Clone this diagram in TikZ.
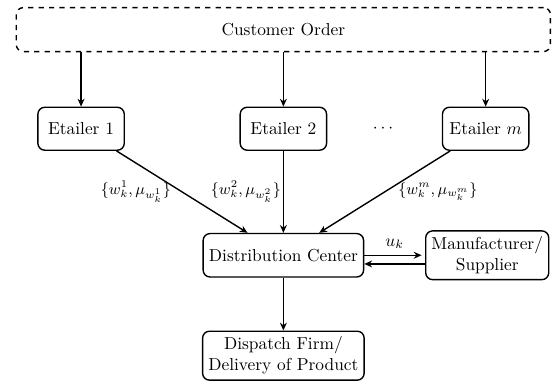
\documentclass[tikz,border=0pt]{standalone}
\usepackage{amsmath}
\usepackage{amssymb}
\usepackage{tikz}
\usetikzlibrary{arrows.meta, positioning}
\tikzstyle{orderbox} = [rectangle, rounded corners, dashed, draw=black, thick,
    minimum width=10.82cm, minimum height=0.89cm, text centered]
\tikzstyle{etailer}  = [rectangle, rounded corners, draw=black, thick,
    minimum width=1.75cm, minimum height=0.87cm, text centered]
\tikzstyle{hub}      = [rectangle, rounded corners, draw=black, thick,
    minimum height=0.88cm, align=center]
\tikzstyle{arrow}    = [thick,->,>={Stealth[length=4.5pt,width=4pt]}]
\tikzstyle{flow}     = [inner sep=0pt, font=\small]

\begin{document}
\begin{tikzpicture}
    \node (order)    [orderbox]                     {Customer Order};
    \node (e2)       [etailer, below=1.1cm of order] {Etailer 2};
    \node (e1)       [etailer, left=2.32cm of e2]    {Etailer 1};
    \node (em)       [etailer, right=2.32cm of e2]   {Etailer $m$};
    \path (e2) -- node (dots) {$\cdots$} (em);
    \node (dc)       [hub, below=1.66cm of e2]       {Distribution Center};
    \node (mf)       [hub, right=1.23cm of dc]       {Manufacturer/\\Supplier};
    \node (dispatch) [hub, below=1.07cm of dc]       {Dispatch Firm/\\Delivery of Product};

    \draw [arrow] (order.south -| e1) -- (e1);
    \draw [arrow] (order.south -| e2) -- (e2);
    \draw [arrow] (order.south -| em) -- (em);
    \draw [arrow] (e1) -- node[flow, midway, left=6pt]   {$\{w_k^1, \mu_{w_k^1}\}$} (dc);
    \draw [arrow] (e2) -- node[flow, midway, left=1pt]   {$\{w_k^2, \mu_{w_k^2}\}$} (dc);
    \draw [arrow] (em) -- node[flow, midway, right=7.5pt] {$\{w_k^m, \mu_{w_k^m}\}$} (dc);
    \draw [arrow, shorten >=2pt] (dc) -- node[above]{$u_k$} (mf);
    \draw [arrow] ([yshift=-5pt]mf.west) -- ([yshift=-5pt]dc.east);
    \draw [arrow] (dc) -- (dispatch);

    \coordinate (corner) at (dispatch.south -| order.east);
    \pgfresetboundingbox
    \useasboundingbox ([shift={(-9pt,4pt)}]order.north west) rectangle ([xshift=0.5pt]corner);
\end{tikzpicture}
\end{document}
